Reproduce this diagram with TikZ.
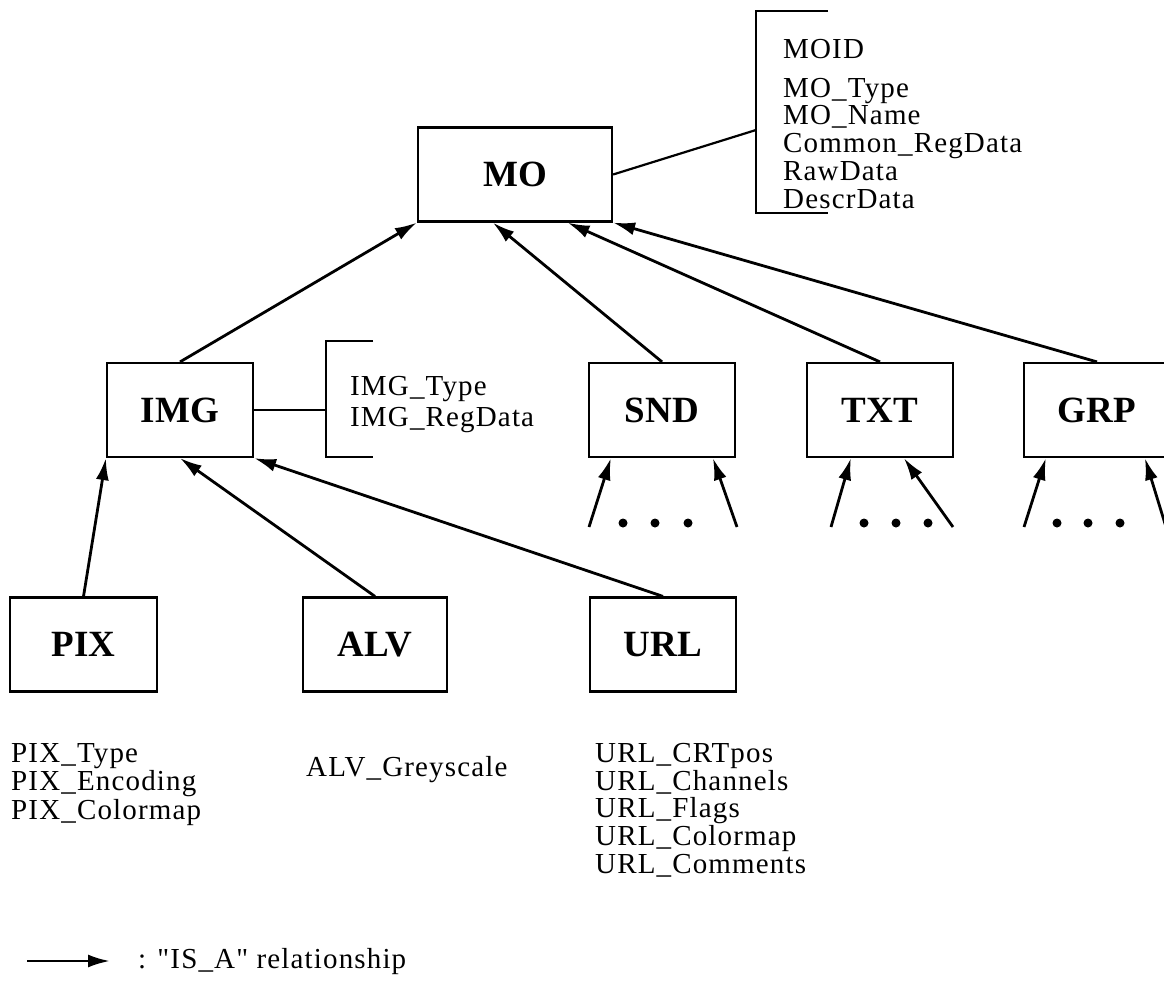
\documentclass[tikz,border=0pt]{standalone}
\usepackage{fontspec}
\setmainfont{Liberation Serif}
\newfontfamily\attrfont{Liberation Serif}[LetterSpace=4,Ligatures=TeXOff]
\usetikzlibrary{arrows.meta,calc}
\begin{document}
\begin{tikzpicture}[x=1pt,y=-1pt,
  box/.style={draw,line width=2.2pt,minimum width=146pt,minimum height=94pt,inner sep=0pt,
    font=\fontsize{37}{37}\selectfont\bfseries},
  attr/.style={anchor=base west,inner sep=0pt,font=\attrfont\fontsize{29}{29}\selectfont},
  isa/.style={line width=2.8pt,-{Latex[length=22pt,width=13pt]}},
  plain/.style={line width=2.2pt},
  dotm/.style={fill=black}
]
\useasboundingbox (0,0) rectangle (1164,980);

% boxes
\node[box,minimum width=194pt] (mo) at (515,174.5) {MO};
\node[box] (img) at (180,410) {IMG};
\node[box] (snd) at (662,410) {SND};
\node[box] (txt) at (880,410) {TXT};
\node[box] (grp) at (1097,410) {GRP};
\node[box,minimum width=147pt] (pix) at (83.5,644.5) {PIX};
\node[box,minimum width=144pt] (alv) at (375,644.5) {ALV};
\node[box] (url) at (663,644.5) {URL};

% MO attribute bracket
\coordinate (mob) at (756,130);
\draw[plain] (828,11) -- (756,11) -- (756,213) -- (828,213);
\draw[plain] (mo.east) -- (mob);
\node[attr] (moid) at (783,58) {MOID};
\node[attr] (motype) at (783,97) {MO\_Type};
\node[attr] (moname) at (783,124) {MO\_Name};
\node[attr] (mocrd) at (783,152) {Common\_RegData};
\node[attr] (moraw) at (783,180) {RawData};
\node[attr] (modescr) at (783,208) {DescrData};

% IMG attribute bracket
\coordinate (imgb) at (326,410);
\draw[plain] (373,341) -- (326,341) -- (326,457) -- (373,457);
\draw[plain] (img.east) -- (imgb);
\node[attr] (imgtype) at (350,395) {IMG\_Type};
\node[attr] (imgreg) at (350,426) {IMG\_RegData};

% IS_A arrows to MO
\draw[isa] (img.north) -- (mo.south west);
\draw[isa] (snd.north) -- ($(mo.south west)!0.387!(mo.south east)$);
\draw[isa] (txt.north) -- ($(mo.south west)!0.768!(mo.south east)$);
\draw[isa] (grp.north) -- (mo.south east);

% IS_A arrows to IMG
\draw[isa] (pix.north) -- (img.south west);
\draw[isa] (alv.north) -- (img.south);
\draw[isa] (url.north) -- (img.south east);

% open-ended children
\coordinate (s1) at (589,527); \coordinate (s2) at (737,527);
\coordinate (t1) at (831,527); \coordinate (t2) at (953,527);
\coordinate (g1) at (1024,527); \coordinate (g2) at (1166,527);
\draw[isa] (s1) -- ([xshift=23pt]snd.south west);
\draw[isa] (s2) -- ([xshift=125pt]snd.south west);
\draw[isa] (t1) -- ([xshift=45pt]txt.south west);
\draw[isa] (t2) -- ([xshift=98pt]txt.south west);
\draw[isa] (g1) -- ([xshift=23pt]grp.south west);
\draw[isa] (g2) -- ([xshift=122pt]grp.south west);
\foreach \x in {623,655,688,864,896,928,1057,1088,1120}
  \fill[dotm] (\x,523) circle (4.5pt);

% attribute lists of the leaves
\node[attr] (pixa) at (11,762) {PIX\_Type};
\node[attr] (pixb) at (11,790.5) {PIX\_Encoding};
\node[attr] (pixc) at (11,819) {PIX\_Colormap};
\node[attr] (alva) at (306,776) {ALV\_Greyscale};
\node[attr] (urla) at (595,762) {URL\_CRTpos};
\node[attr] (urlb) at (595,790) {URL\_Channels};
\node[attr] (urlc) at (595,817.5) {URL\_Flags};
\node[attr] (urld) at (595,845) {URL\_Colormap};
\node[attr] (urle) at (595,873) {URL\_Comments};

% legend
\coordinate (lg1) at (27,961);
\coordinate (lg2) at (110,961);
\draw[isa] (lg1) -- (lg2);
\node[attr] (lgtext) at (138,968) {: "IS\_A" relationship};
\end{tikzpicture}
\end{document}
